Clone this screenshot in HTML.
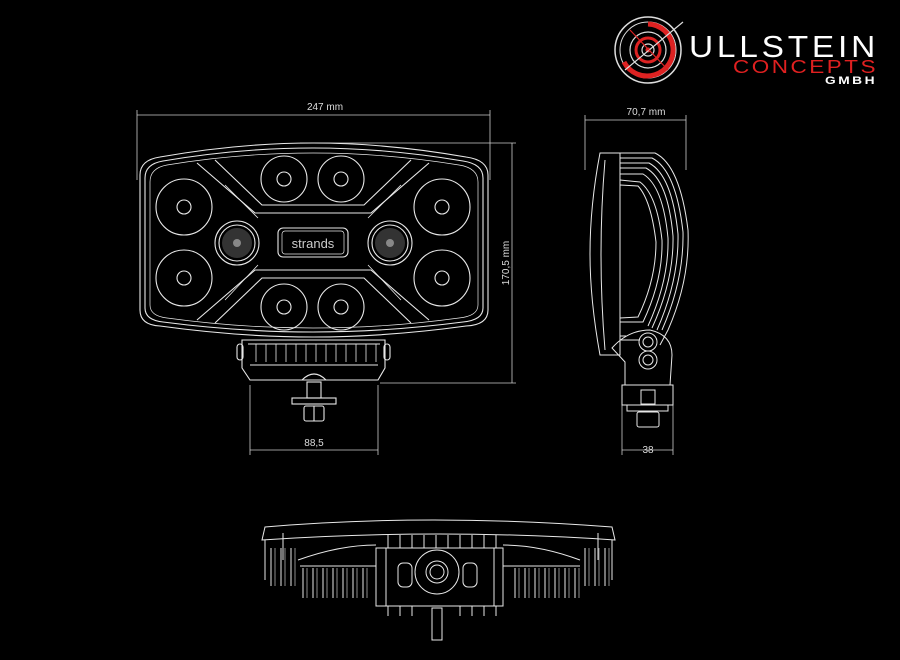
<!DOCTYPE html>
<html><head><meta charset="utf-8"><style>
html,body{margin:0;padding:0;background:#000;}
svg{display:block;}
text{font-family:"Liberation Sans",sans-serif;}
</style></head><body>
<svg width="900" height="660" viewBox="0 0 900 660" xmlns="http://www.w3.org/2000/svg">
<rect width="900" height="660" fill="#000"/>
<!-- LOGO -->
<g fill="none">
 <circle cx="648" cy="50" r="33" stroke="#ddd" stroke-width="1.5"/>
 <circle cx="648" cy="50" r="28" stroke="#ddd" stroke-width="1"/>
 <path d="M648 24 A26 26 0 1 1 624 62" stroke="#d22" stroke-width="5"/>
 <circle cx="648" cy="50" r="18" stroke="#ddd" stroke-width="1.2"/>
 <circle cx="648" cy="50" r="12" stroke="#d22" stroke-width="3"/>
 <circle cx="648" cy="50" r="6" stroke="#ddd" stroke-width="1.2"/>
 <circle cx="648" cy="50" r="2.5" fill="#d22"/>
 <line x1="625" y1="70" x2="683" y2="22" stroke="#ddd" stroke-width="1.2"/>
 <line x1="630" y1="30" x2="668" y2="70" stroke="#d22" stroke-width="1.2"/>
</g>
<text x="689" y="57" font-size="31" fill="#fff" letter-spacing="3.5" textLength="190" lengthAdjust="spacingAndGlyphs">ULLSTEIN</text>
<text x="733" y="73" font-size="18" fill="#e02020" letter-spacing="2" textLength="145" lengthAdjust="spacingAndGlyphs">CONCEPTS</text>
<text x="825" y="84" font-size="11" fill="#fff" font-weight="bold" letter-spacing="2" textLength="52" lengthAdjust="spacingAndGlyphs">GMBH</text>

<g stroke="#ccc" stroke-width="0.8" fill="none">
 <!-- front dims -->
 <line x1="137" y1="115" x2="490" y2="115"/>
 <line x1="137" y1="110" x2="137" y2="180"/>
 <line x1="490" y1="110" x2="490" y2="180"/>
 <line x1="300" y1="143" x2="516" y2="143"/>
 <line x1="380" y1="383" x2="516" y2="383"/>
 <line x1="512" y1="143" x2="512" y2="383"/>
 <line x1="250" y1="385" x2="250" y2="455"/>
 <line x1="378" y1="385" x2="378" y2="455"/>
 <line x1="250" y1="450" x2="378" y2="450"/>
 <!-- side dims -->
 <line x1="585" y1="120" x2="686" y2="120"/>
 <line x1="585" y1="115" x2="585" y2="170"/>
 <line x1="686" y1="115" x2="686" y2="170"/>
 <line x1="622" y1="405" x2="622" y2="455"/>
 <line x1="673" y1="405" x2="673" y2="455"/>
 <line x1="622" y1="450" x2="673" y2="450"/>
</g>
<g fill="#ddd" font-size="10">
 <text x="325" y="110" text-anchor="middle">247 mm</text>
 <text x="314" y="446" text-anchor="middle">88,5</text>
 <text x="646" y="115" text-anchor="middle">70,7 mm</text>
 <text x="648" y="453" text-anchor="middle">38</text>
 <text transform="translate(509,263) rotate(-90)" text-anchor="middle">170,5 mm</text>
</g>

<!-- FRONT VIEW -->
<g stroke="#e8e8e8" stroke-width="1.1" fill="none">
 <path d="M140 175 Q140 160 160 157 Q240 143 313 143 Q386 143 466 157 Q488 160 488 175 L488 310 Q488 325 466 326 Q386 337 313 337 Q240 337 160 326 Q140 325 140 310 Z"/>
 <path d="M145 178 Q145 164 163 161 Q240 148 313 148 Q386 148 463 161 Q483 164 483 178 L483 308 Q483 320 463 322 Q386 332 313 332 Q240 332 163 322 Q145 320 145 308 Z"/>
 <path d="M150 182 Q150 168 167 165 Q240 153 313 153 Q386 153 459 165 Q478 168 478 182 L478 305 Q478 316 459 318 Q386 328 313 328 Q240 328 167 318 Q150 316 150 305 Z" stroke-width="0.7"/>
 <!-- X frame -->
 <path d="M197 163 L255 213 L371 213 L429 163"/>
 <path d="M215 160 L262 205 L364 205 L411 160"/>
 <path d="M197 320 L255 270 L371 270 L429 320"/>
 <path d="M215 323 L262 278 L364 278 L411 323"/>
 <path d="M225 185 L258 218 M401 185 L368 218 M225 300 L258 265 M401 300 L368 265" stroke-width="0.8"/>
 <!-- lenses -->
 <circle cx="284" cy="179" r="23"/><circle cx="284" cy="179" r="7"/>
 <circle cx="341" cy="179" r="23"/><circle cx="341" cy="179" r="7"/>
 <circle cx="284" cy="307" r="23"/><circle cx="284" cy="307" r="7"/>
 <circle cx="341" cy="307" r="23"/><circle cx="341" cy="307" r="7"/>
 <circle cx="184" cy="207" r="28"/><circle cx="184" cy="207" r="7"/>
 <circle cx="184" cy="278" r="28"/><circle cx="184" cy="278" r="7"/>
 <circle cx="442" cy="207" r="28"/><circle cx="442" cy="207" r="7"/>
 <circle cx="442" cy="278" r="28"/><circle cx="442" cy="278" r="7"/>
 <circle cx="237" cy="243" r="22"/><circle cx="237" cy="243" r="18"/>
 <circle cx="390" cy="243" r="22"/><circle cx="390" cy="243" r="18"/>
 <rect x="278" y="228" width="70" height="29" rx="5"/>
 <rect x="282" y="231" width="62" height="23" rx="3" stroke-width="0.7"/>
 <!-- bracket -->
 <path d="M242 340 L385 340 L385 368 L378 380 L250 380 L242 368 Z"/>
 <path d="M248 344 L380 344 M250 365 L378 365"/>
 <path d="M256 344 v18 M266 344 v18 M276 344 v18 M286 344 v18 M296 344 v18 M306 344 v18 M316 344 v18 M326 344 v18 M336 344 v18 M346 344 v18 M356 344 v18 M366 344 v18 M376 344 v18" stroke-width="0.8"/>
 <rect x="237" y="344" width="6" height="16" rx="3"/>
 <rect x="384" y="344" width="6" height="16" rx="3"/>
 <path d="M302 380 Q314 368 326 380"/>
 <rect x="307" y="382" width="14" height="16"/>
 <rect x="292" y="398" width="44" height="6"/>
 <rect x="304" y="406" width="20" height="15" rx="2"/>
 <line x1="314" y1="406" x2="314" y2="421"/>
</g>
<g fill="#555"><circle cx="237" cy="243" r="15" opacity="0.6"/><circle cx="390" cy="243" r="15" opacity="0.6"/></g>
<g fill="#888"><circle cx="237" cy="243" r="4"/><circle cx="390" cy="243" r="4"/></g>
<text x="313" y="248" text-anchor="middle" font-size="13" fill="#ccc">strands</text>

<!-- SIDE VIEW -->
<g stroke="#e8e8e8" stroke-width="1" fill="none">
 <path d="M600 153 L620 153 L620 355 L600 355 Q590 300 590 254 Q590 205 600 153 Z"/>
 <path d="M605 160 Q597 254 605 350"/>
 <path d="M620 153 L655 153 Q680 165 688 230 Q690 280 668 330 L660 345"/>
 <path d="M620 158 L652 158 Q676 170 683 232 Q684 280 662 330"/>
 <path d="M620 163 L649 163 Q672 175 678 234 Q679 280 657 330"/>
 <path d="M620 168 L646 168 Q668 180 673 236 Q674 280 652 328"/>
 <path d="M620 174 L643 174 Q663 186 668 238 Q669 280 648 326"/>
 <path d="M620 180 L640 182 Q657 195 662 240 Q663 280 643 322 L620 322"/>
 <path d="M620 185 L638 186 Q651 200 656 242 Q656 280 638 317 L620 318"/>
 <path d="M620 336 L626 336 M620 340 L640 340"/>
 <path d="M612 348 Q628 330 650 330 Q672 335 672 355 L670 385 L625 385 L625 362 Z"/>
 <circle cx="648" cy="342" r="9"/><circle cx="648" cy="342" r="5"/>
 <circle cx="648" cy="360" r="9"/><circle cx="648" cy="360" r="5"/>
 <rect x="622" y="385" width="51" height="20"/>
 <rect x="641" y="390" width="14" height="14"/>
 <rect x="627" y="405" width="41" height="6"/>
 <rect x="637" y="412" width="22" height="15" rx="2"/>
</g>

<!-- BOTTOM VIEW -->
<g stroke="#e8e8e8" stroke-width="1" fill="none">
 <path d="M265 527 Q430 513 612 527 L615 540 Q440 528 262 540 Z"/>
 <path d="M265 540 L265 580 M612 540 L612 580"/>
 <path d="M283 533 L283 560 M598 533 L598 560"/>
 <path d="M376 548 L503 548 L503 606 L376 606 Z"/>
 <rect x="386" y="548" width="108" height="58"/>
 <circle cx="437" cy="572" r="22"/>
 <circle cx="437" cy="572" r="11"/><circle cx="437" cy="572" r="7"/>
 <rect x="398" y="563" width="14" height="24" rx="5"/>
 <rect x="463" y="563" width="14" height="24" rx="5"/>
 <path d="M388 548 v-13 M400 548 v-13 M412 548 v-13 M424 548 v-13 M436 548 v-13 M448 548 v-13 M460 548 v-13 M472 548 v-13 M484 548 v-13 M496 548 v-13"/>
 <path d="M388 606 v10 M400 606 v10 M412 606 v10 M460 606 v10 M472 606 v10 M484 606 v10 M496 606 v10"/>
 <rect x="432" y="608" width="10" height="32"/>
 <path d="M271 548 v38 M281 548 v38 M291 548 v38 M303 568 v30 M313 568 v30 M323 568 v30 M333 568 v30 M343 568 v30 M353 568 v30 M363 568 v30"/>
 <path d="M275 548 v38 M285 548 v38 M295 548 v38 M307 568 v30 M317 568 v30 M327 568 v30 M337 568 v30 M347 568 v30 M357 568 v30 M367 568 v30" stroke-width="0.6"/>
 <path d="M585 548 v38 M595 548 v38 M605 548 v38 M515 568 v30 M525 568 v30 M535 568 v30 M545 568 v30 M555 568 v30 M565 568 v30 M575 568 v30"/>
 <path d="M589 548 v38 M599 548 v38 M609 548 v38 M519 568 v30 M529 568 v30 M539 568 v30 M549 568 v30 M559 568 v30 M569 568 v30 M579 568 v30" stroke-width="0.6"/>
 <path d="M300 566 L376 566 M503 566 L580 566"/>
 <path d="M298 560 Q340 545 376 545 M580 560 Q540 545 503 545"/>
</g>
</svg>
</body></html>
